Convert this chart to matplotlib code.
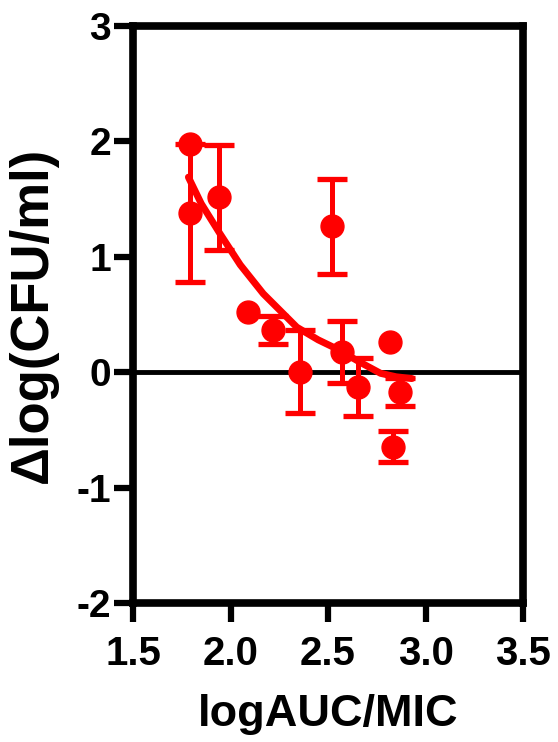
import matplotlib
matplotlib.use("Agg")
import matplotlib.pyplot as plt

plt.rcParams['font.family'] = ['Liberation Sans', 'DejaVu Sans']
plt.rcParams['font.weight'] = 'bold'

# Observations with SD: log AUC/MIC vs change in log CFU/ml
err_x = [1.792, 1.943, 2.220, 2.356, 2.519, 2.570, 2.655, 2.835, 2.869]
err_y = [1.378, 1.514, 0.364, 0.003, 1.265, 0.176, -0.127, -0.647, -0.170]
err_sd = [0.600, 0.455, 0.120, 0.360, 0.410, 0.270, 0.250, 0.135, 0.120]

# Observations without an error bar
single_x = [1.792, 2.091, 2.818]
single_y = [1.976, 0.523, 0.263]

# Fitted exposure-response curve
fit_x = [1.784, 1.85, 1.946, 2.05, 2.168, 2.34, 2.45, 2.56, 2.66, 2.77, 2.85, 2.93]
fit_y = [1.69, 1.46, 1.20, 0.93, 0.68, 0.39, 0.28, 0.19, 0.09, -0.01, -0.04, -0.055]

x_ticks = [1.5, 2.0, 2.5, 3.0, 3.5]
x_tick_labels = ['1.5', '2.0', '2.5', '3.0', '3.5']
y_ticks = [-2, -1, 0, 1, 2, 3]
y_tick_labels = ['-2', '-1', '0', '1', '2', '3']

red = '#FF0000'

fig = plt.figure(figsize=(5.58, 7.42), dpi=100)
ax = fig.add_axes([0.2384, 0.1873, 0.6989, 0.7777])

ax.axhline(0, color='black', lw=3.5, zorder=1)
ax.plot(fit_x, fit_y, color=red, lw=5, solid_capstyle='round', zorder=2)
ax.errorbar(err_x, err_y, yerr=err_sd, fmt='o', color=red,
            ms=16.5, elinewidth=3.6, capsize=10.5, capthick=3.8, zorder=3)
ax.plot(single_x, single_y, 'o', color=red, ms=16.5, zorder=3)

ax.set_xlim(1.5, 3.5)
ax.set_ylim(-2, 3)
ax.set_xticks(x_ticks)
ax.set_xticklabels(x_tick_labels)
ax.set_yticks(y_ticks)
ax.set_yticklabels(y_tick_labels)

for side in ['left', 'right', 'top', 'bottom']:
    ax.spines[side].set_linewidth(5.5)
    ax.spines[side].set_color('black')

ax.tick_params(axis='both', direction='out', length=14, width=4.5)
ax.tick_params(axis='x', pad=9, labelsize=29)
ax.tick_params(axis='y', pad=2, labelsize=28)
for lbl in ax.get_xticklabels() + ax.get_yticklabels():
    lbl.set_fontweight('bold')

ax.set_xlabel('logAUC/MIC', fontsize=32.5, fontweight='bold', labelpad=15)
ax.set_ylabel('\u0394log(CFU/ml)', fontsize=38, fontweight='bold', labelpad=13)

fig.savefig('out.png', dpi=100)
